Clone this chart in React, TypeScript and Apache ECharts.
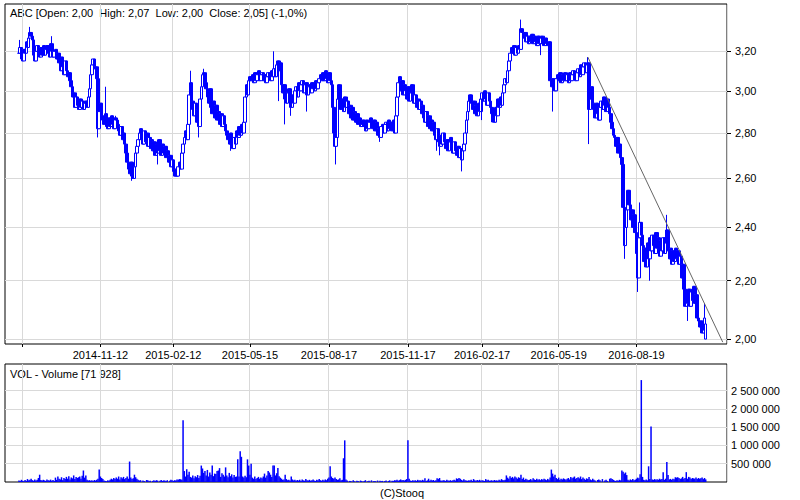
import React, { useEffect, useRef } from 'react';
import * as echarts from 'echarts';

// ---------- categories (trading days) ----------
const startDate = '2014-07-23';
const categoryCount = 594;
const firstDataIndex = 11;
const holidays = [
  '2014-08-15', '2014-11-11', '2014-12-24', '2014-12-25', '2014-12-26', '2014-12-31',
  '2015-01-01', '2015-01-06', '2015-04-03', '2015-04-06', '2015-05-01', '2015-06-04',
  '2015-11-11', '2015-12-24', '2015-12-25', '2015-12-31', '2016-01-01', '2016-01-06',
  '2016-03-25', '2016-03-28', '2016-05-03', '2016-05-26', '2016-08-15', '2016-11-01', '2016-11-11',
];
const tickDates = ['2014-08-12', '2014-11-12', '2015-02-12', '2015-05-15', '2015-08-17', '2015-11-17', '2016-02-17', '2016-05-19', '2016-08-19'];
const labelDates = ['2014-11-12', '2015-02-12', '2015-05-15', '2015-08-17', '2015-11-17', '2016-02-17', '2016-05-19', '2016-08-19'];

// ---------- price axis ----------
const priceTicks = [2.0, 2.2, 2.4, 2.6, 2.8, 3.0, 3.2];
const priceMin = 1.984;
const priceMax = 3.457;

// ---------- volume axis (thousands) ----------
const volumeTicks = [500, 1000, 1500, 2000, 2500];
const volumeMax = 3230;

// ---------- daily closes (from category index 11) ----------
const closes = [
  3.19, 3.22, 3.16, 3.15, 3.21, 3.19, 3.25, 3.22, 3.27, 3.30,
  3.28, 3.26, 3.18, 3.15, 3.20, 3.23, 3.18, 3.17, 3.22, 3.18,
  3.23, 3.18, 3.21, 3.23, 3.19, 3.17, 3.24, 3.20, 3.17, 3.20,
  3.21, 3.16, 3.19, 3.14, 3.10, 3.17, 3.12, 3.08, 3.15, 3.10,
  3.07, 3.09, 3.05, 3.02, 2.97, 2.99, 2.92, 2.97, 2.93, 2.91,
  2.96, 2.92, 2.95, 2.91, 2.94, 2.95, 2.92, 2.97, 3.01, 3.08,
  3.13, 3.16, 3.11, 3.12, 3.06, 2.82, 2.90, 2.94, 2.88, 2.86,
  2.84, 2.89, 2.83, 2.82, 2.87, 2.83, 2.88, 2.84, 2.82, 2.87,
  2.86, 2.84, 2.81, 2.79, 2.83, 2.77, 2.80, 2.75, 2.71, 2.67,
  2.64, 2.62, 2.67, 2.61, 2.60, 2.65, 2.71, 2.74, 2.77, 2.80,
  2.82, 2.77, 2.75, 2.81, 2.76, 2.80, 2.74, 2.78, 2.73, 2.77,
  2.72, 2.76, 2.70, 2.75, 2.71, 2.77, 2.72, 2.70, 2.75, 2.71,
  2.74, 2.69, 2.72, 2.67, 2.70, 2.65, 2.68, 2.63, 2.61, 2.64,
  2.61, 2.65, 2.67, 2.64, 2.71, 2.75, 2.78, 2.81, 2.77, 2.84,
  2.98, 3.04, 2.95, 2.91, 2.88, 2.94, 2.85, 2.91, 2.83, 2.96,
  3.02, 3.08, 3.09, 3.04, 3.01, 2.97, 2.94, 3.01, 2.92, 2.89,
  2.95, 2.87, 2.93, 2.86, 2.90, 2.84, 2.89, 2.83, 2.88, 2.84,
  2.81, 2.79, 2.77, 2.75, 2.80, 2.74, 2.73, 2.78, 2.75, 2.81,
  2.78, 2.83, 2.79, 2.84, 2.80, 2.85, 2.97, 3.03, 2.98, 3.05,
  3.07, 3.05, 3.08, 3.04, 3.09, 3.05, 3.08, 3.10, 3.05, 3.08,
  3.09, 3.05, 3.08, 3.04, 3.07, 3.09, 3.06, 3.05, 3.10, 3.07,
  3.11, 3.07, 3.13, 3.15, 3.10, 3.14, 3.03, 2.99, 3.03, 2.96,
  2.94, 2.99, 3.01, 2.95, 2.92, 2.98, 2.94, 3.00, 3.02, 2.97,
  3.04, 3.00, 3.03, 3.05, 2.99, 3.03, 3.04, 2.98, 3.02, 3.03,
  2.99, 3.04, 3.01, 3.00, 3.05, 3.01, 3.04, 3.06, 3.08, 3.05,
  3.09, 3.05, 3.10, 3.06, 3.04, 3.09, 3.05, 3.03, 2.92, 2.80,
  2.74, 2.78, 2.96, 3.03, 2.96, 2.91, 2.96, 2.90, 2.97, 2.92,
  2.95, 2.89, 2.93, 2.87, 2.92, 2.86, 2.90, 2.85, 2.89, 2.84,
  2.87, 2.83, 2.84, 2.86, 2.83, 2.81, 2.86, 2.82, 2.85, 2.87,
  2.83, 2.82, 2.86, 2.81, 2.85, 2.79, 2.82, 2.78, 2.83, 2.84,
  2.80, 2.84, 2.85, 2.81, 2.86, 2.82, 2.85, 2.81, 2.86, 2.80,
  2.88, 2.97, 3.04, 3.07, 3.00, 3.05, 2.98, 3.03, 3.00, 2.96,
  3.02, 2.95, 2.99, 3.03, 2.98, 2.94, 2.98, 2.92, 2.96, 2.91,
  2.95, 2.89, 2.93, 2.87, 2.85, 2.90, 2.83, 2.88, 2.82, 2.86,
  2.81, 2.85, 2.79, 2.77, 2.82, 2.76, 2.74, 2.79, 2.75, 2.80,
  2.76, 2.73, 2.77, 2.72, 2.76, 2.78, 2.73, 2.71, 2.76, 2.72,
  2.70, 2.74, 2.69, 2.73, 2.68, 2.72, 2.75, 2.80, 2.86, 2.90,
  2.95, 2.98, 2.94, 2.91, 2.95, 2.89, 2.93, 2.88, 2.94, 2.90,
  2.96, 2.99, 2.95, 3.00, 2.96, 2.93, 2.99, 2.95, 2.92, 2.89,
  2.87, 2.85, 2.92, 2.88, 2.96, 2.92, 2.97, 2.93, 2.99, 3.03,
  3.06, 3.04, 3.10, 3.15, 3.19, 3.22, 3.19, 3.23, 3.18, 3.22,
  3.19, 3.23, 3.21, 3.32, 3.30, 3.27, 3.30, 3.25, 3.28, 3.24,
  3.28, 3.25, 3.29, 3.24, 3.28, 3.25, 3.23, 3.28, 3.24, 3.27,
  3.28, 3.24, 3.23, 3.27, 3.24, 3.23, 3.25, 3.05, 3.02, 3.06,
  3.02, 3.00, 3.06, 3.08, 3.05, 3.09, 3.04, 3.08, 3.05, 3.09,
  3.05, 3.08, 3.04, 3.09, 3.05, 3.08, 3.10, 3.06, 3.05, 3.09,
  3.11, 3.07, 3.13, 3.08, 3.12, 3.14, 3.09, 3.13, 3.14, 2.91,
  2.96, 3.02, 2.94, 2.91, 2.87, 2.94, 2.89, 2.86, 2.92, 2.95,
  2.91, 2.97, 2.93, 2.90, 2.96, 2.92, 2.89, 2.85, 2.82, 2.79,
  2.78, 2.74, 2.78, 2.71, 2.75, 2.69, 2.66, 2.48, 2.33, 2.40,
  2.47, 2.55, 2.49, 2.43, 2.47, 2.40, 2.45, 2.38, 2.30, 2.21,
  2.36, 2.42, 2.37, 2.33, 2.27, 2.32, 2.25, 2.34, 2.28, 2.36,
  2.31, 2.37, 2.33, 2.30, 2.38, 2.32, 2.36, 2.29, 2.35, 2.31,
  2.36, 2.30, 2.34, 2.39, 2.31, 2.28, 2.32, 2.26, 2.31, 2.27,
  2.32, 2.28, 2.31, 2.26, 2.29, 2.21, 2.26, 2.17, 2.11, 2.16,
  2.12, 2.17, 2.11, 2.16, 2.13, 2.18, 2.12, 2.15, 2.07, 2.06,
  2.04, 2.06, 2.02, 2.03, 2.07, 2.05,
];

// opens differing from the previous close: [category index, open]
const openOverrides: [number, number][] = [[576, 2.0]];
// wick extremes: [category index, price]
const highSpikes: [number, number][] = [
  [12, 3.26], [20, 3.33], [38, 3.28], [82, 3.02], [91, 2.88], [152, 3.10], [163, 3.11],
  [221, 3.20], [424, 3.37], [479, 3.17], [522, 2.50], [544, 2.45], [575, 2.12], [576, 2.07],
];
const lowSpikes: [number, number][] = [
  [76, 2.78], [104, 2.59], [125, 2.66], [159, 2.78], [185, 2.72], [225, 2.95], [230, 2.84],
  [235, 2.88], [248, 2.90], [272, 2.66], [308, 2.76], [355, 2.72], [357, 2.70], [375, 2.63],
  [392, 2.86], [400, 2.85], [440, 3.18], [450, 2.90], [480, 2.75], [509, 2.28], [520, 2.16],
  [530, 2.20], [561, 2.06],
];

// ---------- volumes in thousands (from category index 11) ----------
const volumes = [
  40, 25, 60, 35, 20, 55, 30, 80, 45, 60,
  90, 50, 35, 70, 40, 60, 110, 200, 55, 40,
  60, 45, 30, 70, 50, 40, 65, 35, 55, 30,
  120, 60, 150, 90, 70, 130, 50, 110, 80, 140,
  90, 160, 70, 120, 100, 180, 80, 140, 110, 130,
  150, 90, 170, 315, 120, 180, 60, 40, 50, 35,
  45, 30, 55, 40, 60, 90, 340, 150, 110, 80,
  40, 30, 20, 45, 35, 60, 90, 70, 110, 80,
  120, 90, 150, 70, 130, 100, 140, 80, 110, 150,
  90, 560, 120, 80, 100, 200, 130, 90, 60, 40,
  50, 0, 40, 30, 0, 55, 45, 20, 35, 0,
  30, 45, 25, 50, 40, 0, 35, 55, 30, 45,
  40, 25, 50, 0, 35, 60, 45, 30, 50, 40,
  70, 60, 80, 75, 65, 1690, 300, 150, 350, 200,
  280, 140, 120, 180, 100, 160, 130, 190, 110, 170,
  450, 370, 250, 300, 180, 330, 150, 260, 200, 450,
  160, 230, 220, 300, 315, 380, 140, 240, 200, 150,
  400, 180, 130, 250, 160, 210, 120, 190, 140, 150,
  620, 150, 840, 690, 150, 120, 170, 130, 620, 450,
  200, 500, 120, 90, 150, 80, 110, 140, 90, 120,
  100, 150, 230, 120, 180, 300, 260, 200, 140, 450,
  450, 180, 240, 380, 160, 120, 90, 60, 70, 200,
  80, 50, 60, 40, 150, 70, 45, 60, 35, 55,
  40, 60, 30, 70, 45, 35, 80, 50, 40, 60,
  35, 50, 70, 40, 30, 60, 45, 80, 50, 35,
  60, 40, 70, 50, 90, 120, 430, 150, 110, 90,
  120, 80, 60, 70, 100, 50, 60, 650, 1140, 70,
  40, 0, 30, 25, 0, 45, 20, 0, 35, 30,
  0, 40, 25, 0, 30, 50, 0, 20, 35, 0,
  45, 0, 30, 25, 0, 40, 0, 35, 20, 30,
  0, 25, 40, 0, 30, 45, 0, 35, 25, 50,
  40, 60, 35, 50, 70, 45, 55, 40, 60, 80,
  1140, 90, 40, 30, 50, 35, 45, 30, 60, 40,
  50, 35, 60, 40, 100, 30, 45, 90, 35, 60,
  40, 55, 30, 45, 100, 80, 110, 40, 35, 50,
  45, 30, 60, 40, 35, 50, 30, 45, 60, 40,
  100, 80, 110, 90, 60, 40, 75, 50, 40, 35,
  45, 40, 60, 30, 80, 45, 35, 55, 40, 60,
  35, 50, 40, 30, 80, 45, 60, 35, 40, 50,
  30, 55, 40, 45, 35, 60, 40, 80, 50, 45,
  60, 180, 120, 90, 160, 110, 140, 100, 150, 120,
  90, 130, 110, 200, 80, 120, 60, 90, 70, 50,
  60, 80, 50, 100, 70, 55, 90, 60, 75, 50,
  80, 60, 90, 70, 50, 85, 65, 120, 340, 230,
  150, 200, 110, 80, 120, 60, 90, 70, 100, 80,
  60, 90, 110, 70, 140, 100, 120, 150, 90, 110,
  130, 100, 150, 80, 120, 90, 60, 100, 80, 140,
  70, 50, 90, 60, 40, 0, 55, 70, 45, 0,
  80, 0, 40, 60, 30, 0, 90, 100, 80, 60,
  40, 30, 50, 35, 60, 45, 315, 280, 230, 260,
  190, 60, 40, 70, 50, 80, 45, 60, 90, 120,
  100, 210, 2790, 140, 60, 50, 70, 45, 430, 80,
  1520, 70, 60, 80, 65, 75, 60, 90, 70, 80,
  270, 60, 90, 545, 190, 70, 85, 60, 90, 75,
  130, 120, 130, 110, 80, 100, 140, 90, 110, 270,
  90, 140, 120, 80, 110, 100, 90, 120, 80, 110,
  90, 100, 120, 80, 110, 71.928,
];

// trend line anchors: [category index, price]
const trendStart: [number, number] = [479, 3.17];
const trendEnd: [number, number] = [590, 1.99];

const FONT = '"Liberation Sans", Arial, sans-serif';

function tradingDays(start: string, count: number, hol: string[]): string[] {
  const out: string[] = [];
  const set = new Set(hol);
  const d = new Date(start + 'T00:00:00Z');
  while (out.length < count) {
    const wd = d.getUTCDay();
    const s = d.toISOString().slice(0, 10);
    if (wd !== 0 && wd !== 6 && !set.has(s)) out.push(s);
    d.setUTCDate(d.getUTCDate() + 1);
  }
  return out;
}

function fmtNum(v: number, digits: number) {
  return v.toFixed(digits).replace('.', ',');
}
function fmtThousands(v: number) {
  return String(Math.round(v)).replace(/\B(?=(\d{3})+(?!\d))/g, ' ');
}

export default function App() {
  const ref = useRef<HTMLDivElement>(null);

  useEffect(() => {
    if (!ref.current) return;
    const chart = echarts.init(ref.current, undefined, { renderer: 'svg' });

    const cats = tradingDays(startDate, categoryCount, holidays);
    const tickSet = new Set(tickDates);
    const labelSet = new Set(labelDates);
    const openMap = new Map(openOverrides);
    const hiMap = new Map(highSpikes);
    const loMap = new Map(lowSpikes);

    const candles: any[] = [];
    const ohlc: { o: number; c: number; l: number; h: number }[] = [];
    closes.forEach((c, i) => {
      const idx = firstDataIndex + i;
      const o = openMap.has(idx) ? (openMap.get(idx) as number) : i > 0 ? closes[i - 1] : c;
      let h = Math.max(o, c);
      let l = Math.min(o, c);
      if (hiMap.has(idx)) h = Math.max(h, hiMap.get(idx) as number);
      if (loMap.has(idx)) l = Math.min(l, loMap.get(idx) as number);
      ohlc.push({ o, c, l, h });
      candles.push([cats[idx], Math.log(o), Math.log(c), Math.log(l), Math.log(h)]);
    });
    const volData = volumes.map((v, i) => [cats[firstDataIndex + i], v]);

    const last = ohlc[ohlc.length - 1];
    const prevClose = closes[closes.length - 2];
    const change = (last.c / prevClose - 1) * 100;
    const titleText =
      `ABC [Open: ${fmtNum(last.o, 2)}  High: ${fmtNum(last.h, 2)}  Low: ${fmtNum(last.l, 2)}  ` +
      `Close: ${fmtNum(last.c, 2)}] (${change >= 0 ? '+' : ''}${fmtNum(change, 1)}%)`;
    const volText = `VOL - Volume [${fmtThousands(volumes[volumes.length - 1] * 1000)}]`;

    const priceLogTicks = priceTicks.map((p) => Math.log(p));
    const gridLine = { show: true, lineStyle: { color: '#d9d9d9', width: 1 } };

    const option: any = {
      animation: false,
      backgroundColor: '#ffffff',
      grid: [
        { left: 5, top: 4, width: 722, height: 340, show: true, borderColor: '#000', borderWidth: 1, containLabel: false, outerBoundsMode: 'none' },
        { left: 5, top: 364, width: 722, height: 118, show: true, borderColor: '#000', borderWidth: 1, containLabel: false, outerBoundsMode: 'none' },
      ],
      xAxis: [
        {
          type: 'category', gridIndex: 0, data: cats, boundaryGap: true,
          axisLine: { show: false },
          axisTick: { show: true, length: 3, alignWithLabel: true, interval: (i: number) => tickSet.has(cats[i]), lineStyle: { color: '#000' } },
          axisLabel: { show: true, interval: (i: number) => labelSet.has(cats[i]), color: '#000', fontFamily: FONT, fontSize: 11, margin: 5 },
          splitLine: { ...gridLine, interval: (i: number) => tickSet.has(cats[i]) },
        },
        {
          type: 'category', gridIndex: 1, data: cats, boundaryGap: true,
          axisLine: { show: false },
          axisTick: { show: false, alignWithLabel: true, interval: (i: number) => tickSet.has(cats[i]) },
          axisLabel: { show: false },
          splitLine: { ...gridLine, interval: (i: number) => tickSet.has(cats[i]) },
        },
      ],
      yAxis: [
        {
          type: 'value', gridIndex: 0, position: 'right',
          min: Math.log(priceMin), max: Math.log(priceMax),
          axisLine: { show: false },
          axisTick: { show: true, length: 4, lineStyle: { color: '#000' }, customValues: priceLogTicks },
          axisLabel: {
            color: '#000', fontFamily: FONT, fontSize: 11, margin: 8,
            customValues: priceLogTicks,
            formatter: (v: number) => fmtNum(Math.exp(v), 2),
          },
          splitLine: gridLine,
        },
        {
          type: 'value', gridIndex: 1, position: 'right', min: 0, max: volumeMax,
          axisLine: { show: false },
          axisTick: { show: false, customValues: volumeTicks },
          axisLabel: {
            color: '#000', fontFamily: FONT, fontSize: 11, margin: 4,
            customValues: volumeTicks,
            formatter: (v: number) => fmtThousands(v * 1000),
          },
          splitLine: gridLine,
        },
      ],
      series: [
        {
          type: 'candlestick', xAxisIndex: 0, yAxisIndex: 0,
          data: candles, encode: { x: 0, y: [1, 2, 3, 4] },
          barWidth: 3, large: false, silent: true,
          itemStyle: { color: '#ffffff', color0: '#0000ff', borderColor: '#0000ff', borderColor0: '#0000ff', borderWidth: 1 },
          markLine: {
            silent: true, symbol: ['none', 'none'], animation: false,
            label: { show: false },
            lineStyle: { color: '#666666', width: 1, type: 'solid' },
            data: [[
              { coord: [cats[trendStart[0]], Math.log(trendStart[1])] },
              { coord: [cats[trendEnd[0]], Math.log(trendEnd[1])] },
            ]],
          },
        },
        {
          type: 'bar', xAxisIndex: 1, yAxisIndex: 1,
          data: volData, encode: { x: 0, y: 1 },
          barWidth: 1.5, silent: true,
          itemStyle: { color: '#0000ff' },
        },
      ],
      graphic: [
        { type: 'text', left: 10, top: 7, style: { text: titleText, font: `11px ${FONT}`, fill: '#000' } },
        { type: 'text', left: 10, top: 368, style: { text: volText, font: `11px ${FONT}`, fill: '#000' } },
        { type: 'text', left: 380, top: 487, style: { text: '(C)Stooq', font: `11px ${FONT}`, fill: '#000' } },
      ],
    };

    chart.setOption(option);
    return () => chart.dispose();
  }, []);

  return (
    <div
      ref={ref}
      style={{ position: 'fixed', left: 0, top: 0, width: 800, height: 500, background: '#fff' }}
    />
  );
}
